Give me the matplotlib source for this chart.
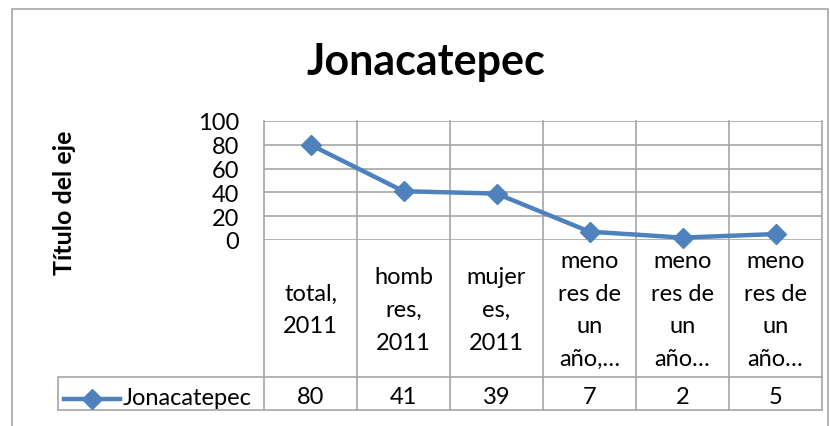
import matplotlib
matplotlib.use('Agg')
import matplotlib.pyplot as plt
from matplotlib.transforms import blended_transform_factory
from matplotlib.lines import Line2D

plt.rcParams['font.family'] = ['Lato', 'DejaVu Sans']

# chart data
categories = ['total,\n2011', 'homb\nres,\n2011', 'mujer\nes,\n2011',
              'meno\nres de\nun\naño,…', 'meno\nres de\nun\naño…', 'meno\nres de\nun\naño…']
values = [80, 41, 39, 7, 2, 5]
series_name = 'Jonacatepec'
yticks = [0, 20, 40, 60, 80, 100]

W, H = 830, 427
blue = '#4F81BD'
grid = '#A6A6A6'
fs = 17

fig = plt.figure(figsize=(W / 100, H / 100), dpi=100)

# background frame axes in pixel units
frame = fig.add_axes([0, 0, 1, 1])
frame.set_xlim(0, W)
frame.set_ylim(H, 0)
frame.axis('off')

# plot area
px_l, px_r, px_t, px_b = 264, 822, 122, 241
tbl_b, row_sep = 411, 378
ax = fig.add_axes([px_l / W, 1 - px_b / H, (px_r - px_l) / W, (px_b - px_t) / H])
x = list(range(len(values)))
ax.plot(x, values, color=blue, lw=3.2, marker='D', ms=10, zorder=3, clip_on=False)
ax.set_xlim(-0.5, len(values) - 0.5)
ax.set_ylim(0, 100)
ax.set_yticks(yticks)
ax.set_yticklabels([str(t) for t in yticks], fontsize=fs)
ax.tick_params(axis='y', length=0, pad=18)
ax.set_xticks([])
for t in yticks:
    ax.axhline(t, color=grid, lw=1.2, zorder=1)
for s in ax.spines.values():
    s.set_visible(False)
ax.patch.set_alpha(0)

# chart border
frame.plot([12, 12, 828, 828], [440, 10, 10, 440], color=grid, lw=1.2, clip_on=False)

# data table
tr = blended_transform_factory(ax.transData, frame.transData)
for i in range(len(values) + 1):
    frame.plot([i - 0.5, i - 0.5], [px_t, tbl_b], color=grid, lw=1.2, transform=tr)
frame.plot([px_l, px_r], [row_sep, row_sep], color=grid, lw=1.2)
frame.plot([58, px_r], [tbl_b, tbl_b], color=grid, lw=1.2)
frame.plot([58, 58, px_l], [tbl_b, row_sep, row_sep], color=grid, lw=1.2)

hdr_mid = (px_b + row_sep) / 2
for i, (c, v) in enumerate(zip(categories, values)):
    frame.text(i, hdr_mid + 1, c, transform=tr, ha='center', va='center',
               fontsize=fs, linespacing=1.68)
    frame.text(i, (row_sep + tbl_b) / 2 + 3, str(v), transform=tr, ha='center',
               va='center', fontsize=fs)

# legend key inside table
frame.add_line(Line2D([64, 120], [400, 400], color=blue, lw=3.2))
frame.plot([92], [400], marker='D', ms=10, color=blue)
frame.text(123, 399, series_name, ha='left', va='center', fontsize=fs)

# titles
frame.text(426, 62, 'Jonacatepec', ha='center', va='center', fontsize=31,
           fontweight='bold')
frame.text(64, 203, 'Título del eje', ha='center', va='center', fontsize=18,
           fontweight='bold', rotation=90)

fig.savefig('out.png', dpi=100)
